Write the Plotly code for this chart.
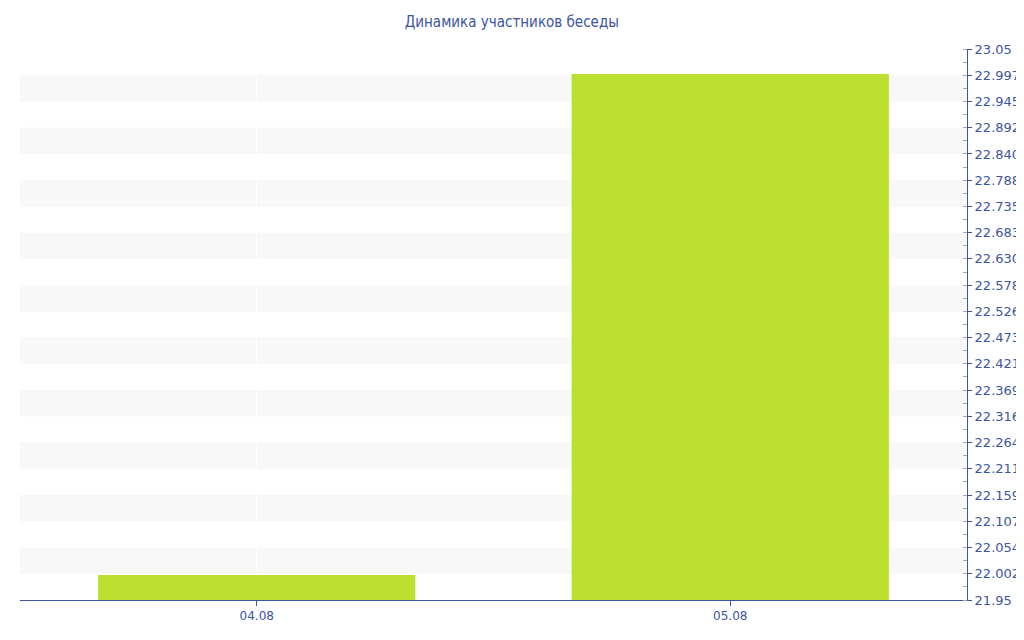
import plotly.graph_objects as go

# data
dates = ['04.08', '05.08']
members = [22, 23]

y_min = 21.95
y_max = 23.05
n_steps = 21
step = (y_max - y_min) / n_steps
tick_vals = [y_min + i * step for i in range(n_steps + 1)]
tick_text = [repr(round(v, 14)) for v in tick_vals]
tick_text[0] = '21.95'
tick_text[-1] = '23.05'

axis_color = '#3e55a0'

fig = go.Figure()

fig.add_trace(go.Bar(x=dates, y=members, marker=dict(color='#bce02f', line=dict(width=0)),
                     width=0.67, name='Участники'))

# alternating light bands between ticks
shapes = []
for i in range(2, n_steps, 2):
    shapes.append(dict(type='rect', xref='paper', yref='y', x0=0, x1=1,
                       y0=tick_vals[i - 1], y1=tick_vals[i], fillcolor='#f8f8f8',
                       line=dict(width=0), layer='below'))

fig.update_layout(
    title=dict(text='Динамика участников беседы', x=0.492, y=0.978, xanchor='center', yanchor='middle',
               font=dict(family='DejaVu Sans Condensed, DejaVu Sans', size=15, color=axis_color)),
    width=1024, height=640,
    margin=dict(l=12, r=65, t=41, b=48),
    plot_bgcolor='white', paper_bgcolor='white',
    showlegend=False,
    shapes=shapes,
    font=dict(family='DejaVu Sans, Verdana', size=12, color=axis_color),
)

fig.update_xaxes(showline=True, linecolor=axis_color, linewidth=1, ticks='outside', ticklen=5,
                 tickcolor=axis_color, showgrid=True, gridcolor='white', zeroline=False,
                 automargin=False, tickfont=dict(size=12, color=axis_color))
fig.update_yaxes(side='right', range=[y_min, y_max], tickmode='array', tickvals=tick_vals,
                 ticktext=tick_text, showline=True, linecolor=axis_color, linewidth=1,
                 ticks='outside', ticklen=4, tickcolor=axis_color, showgrid=False, zeroline=False,
                 automargin=False,
                 minor=dict(ticks='inside', ticklen=4, tickcolor='#aaaaaa', dtick=step / 2,
                            tick0=y_min, showgrid=False),
                 tickfont=dict(size=13, color=axis_color))

fig.write_html("out.html")
